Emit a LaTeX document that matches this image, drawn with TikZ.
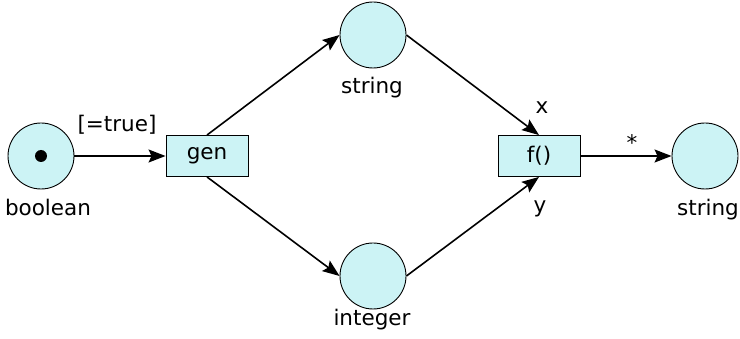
\documentclass[tikz,border=0pt]{standalone}
\usepackage{fontspec}
\setmainfont{DejaVu Sans}
\usetikzlibrary{arrows.meta}
\definecolor{fillc}{RGB}{204,243,245}
\begin{document}
\begin{tikzpicture}[x=1pt,y=-1pt,
 place/.style={circle,draw,fill=fillc,minimum size=66pt,inner sep=0pt,line width=0.9pt},
 trans/.style={rectangle,draw,fill=fillc,minimum width=82pt,minimum height=41pt,inner sep=0pt,line width=0.9pt,font=\fontsize{21.5}{25}\selectfont},
 lbl/.style={font=\fontsize{21.5}{25}\selectfont,inner sep=0pt,anchor=base},
 arc/.style={line width=1.6pt,-{Stealth[length=17pt,width=13pt,inset=3pt]}}]
\useasboundingbox (0,0) rectangle (740,339);
\node[place] (pb) at (41,156) {};
\fill (pb.center) circle (6pt);
\node[place] (ps) at (373,35) {};
\node[place] (pi) at (373,276) {};
\node[place] (pr) at (705,156) {};
\node[trans] (gen) at (207,156) {gen};
\node[trans] (f) at (539,156) {f()};
\node[lbl] (lb) at (48,216) {boolean};
\node[lbl] (ls) at (372,94) {string};
\node[lbl] (li) at (372,326) {integer};
\node[lbl] (lr) at (708,216) {string};
\node[lbl] (lt) at (117,132) {[=true]};
\node[lbl] (lx) at (542,114) {x};
\node[lbl] (ly) at (540,213) {y};
\node[lbl] (lst) at (632,151) {*};
\draw[arc] (pb) -- (gen);
\draw[arc] (gen.north) -- (ps.west);
\draw[arc] (gen.south) -- (pi.west);
\draw[arc] (ps.east) -- (f.north);
\draw[arc] (pi.east) -- (f.south);
\draw[arc] (f) -- (pr);
\end{tikzpicture}
\end{document}
